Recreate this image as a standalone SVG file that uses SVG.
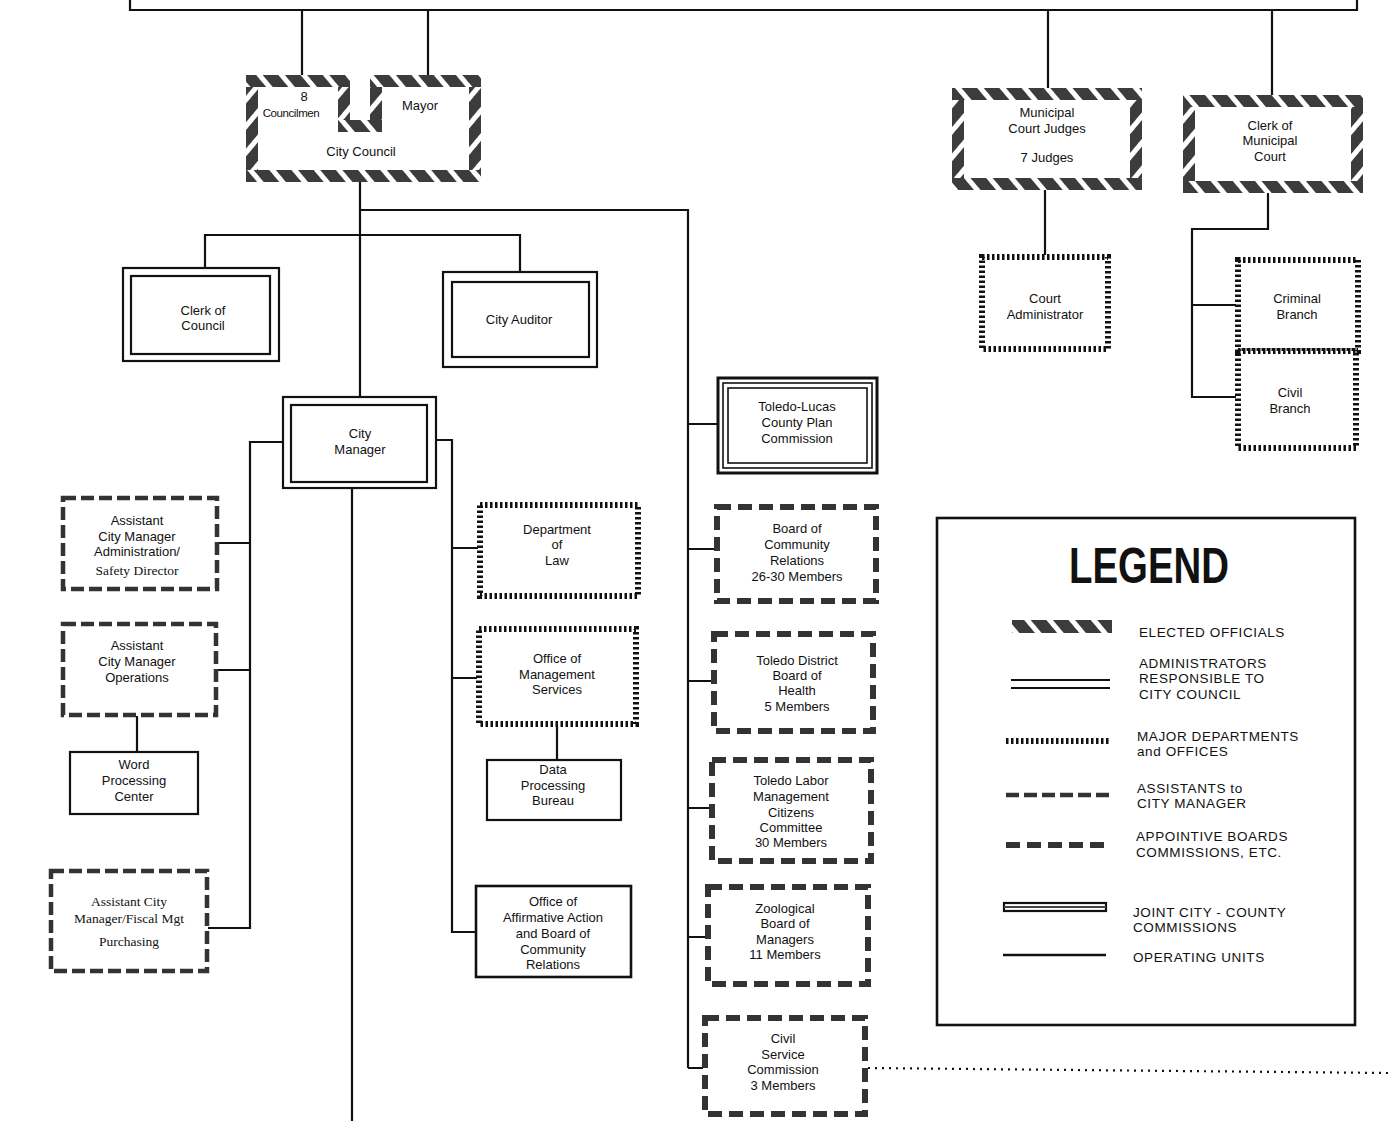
<svg xmlns="http://www.w3.org/2000/svg" width="1388" height="1121" viewBox="0 0 1388 1121">
<defs>
<pattern id="hatchH" patternUnits="userSpaceOnUse" width="17" height="17" patternTransform="rotate(-40)">
<rect width="17" height="17" fill="#fff"/><rect width="12" height="17" fill="#3c3c3c"/>
</pattern>
<pattern id="hatchV" patternUnits="userSpaceOnUse" width="17" height="17" patternTransform="rotate(40)">
<rect width="17" height="17" fill="#fff"/><rect width="12" height="17" fill="#3c3c3c"/>
</pattern>
<style>
text{font-family:"Liberation Sans",Arial,sans-serif;font-size:13px;fill:#111;text-anchor:middle}
.serif{font-family:"Liberation Serif","Times New Roman",serif;font-size:13.5px}
.lg{text-anchor:start;font-size:13.5px;letter-spacing:0.6px}
.conn{stroke:#111;stroke-width:2.2;fill:none}
.adm{fill:#fff;stroke:#111;stroke-width:2.2}
.admi{fill:none;stroke:#111;stroke-width:2.2}
.op{fill:#fff;stroke:#111;stroke-width:2.2}
.maj{fill:#fff;stroke:#111;stroke-width:6;stroke-dasharray:2.5 2.5}
.asst{fill:#fff;stroke:#333;stroke-width:4.5;stroke-dasharray:13 5}
.appt{fill:#fff;stroke:#333;stroke-width:6;stroke-dasharray:14 7}
.joint{fill:#fff;stroke:#111;stroke-width:3}
.jointi{fill:none;stroke:#111;stroke-width:1.6}
</style>
</defs>
<rect width="1388" height="1121" fill="#fff"/>

<g id="connectors">
<path class="conn" d="M130,0 V10 H1357 V0"/>
<path class="conn" d="M302,10 V75 M428,10 V75 M1048,10 V88 M1272,10 V95"/>
<path class="conn" d="M360,182 V397 M360,210 H688 V1068 M205,268 V235 H520 V272"/>
<path class="conn" d="M283,442 H250 V928 H208 M218,543 H250 M217,670 H250 M137,716 V752"/>
<path class="conn" d="M436,440 H452 V932 H476 M452,548 H478 M452,678 H477 M557,726 V760"/>
<path class="conn" d="M352,488 V1121"/>
<path class="conn" d="M688,424 H718 M688,549 H716 M688,681 H712 M688,808 H710 M688,937 H706 M688,1068 H703"/>
<path class="conn" d="M1045,190 V255 M1268,193 V229 H1192 V397 H1236 M1192,305 H1236"/>
<path d="M868,1068 L1388,1073" stroke="#111" stroke-width="2.2" stroke-dasharray="2 5" fill="none"/>
</g>

<g id="city-council">
<rect x="246" y="75" width="104" height="12" fill="url(#hatchH)"/>
<rect x="338" y="87" width="12" height="45" fill="url(#hatchV)"/>
<rect x="338" y="120" width="44" height="12" fill="url(#hatchH)"/>
<rect x="370" y="75" width="12" height="45" fill="url(#hatchV)"/>
<rect x="370" y="75" width="111" height="12" fill="url(#hatchH)"/>
<rect x="469" y="87" width="12" height="83" fill="url(#hatchV)"/>
<rect x="246" y="170" width="235" height="12" fill="url(#hatchH)"/>
<rect x="246" y="87" width="12" height="83" fill="url(#hatchV)"/>
<text x="304" y="101">8</text>
<text x="291" y="117" style="font-size:11.5px;letter-spacing:-0.4px">Councilmen</text>
<text x="420" y="110">Mayor</text>
<text x="361" y="156">City Council</text>
</g>

<g id="municipal-court-judges">
<rect x="952" y="88" width="190" height="12" fill="url(#hatchH)"/>
<rect x="952" y="178" width="190" height="12" fill="url(#hatchH)"/>
<rect x="952" y="100" width="12" height="78" fill="url(#hatchV)"/>
<rect x="1130" y="100" width="12" height="78" fill="url(#hatchV)"/>
<text x="1047" y="117">Municipal</text>
<text x="1047" y="133">Court Judges</text>
<text x="1047" y="162">7 Judges</text>
</g>

<g id="clerk-municipal-court">
<rect x="1183" y="95" width="180" height="12" fill="url(#hatchH)"/>
<rect x="1183" y="181" width="180" height="12" fill="url(#hatchH)"/>
<rect x="1183" y="107" width="12" height="74" fill="url(#hatchV)"/>
<rect x="1351" y="107" width="12" height="74" fill="url(#hatchV)"/>
<text x="1270" y="130">Clerk of</text>
<text x="1270" y="145">Municipal</text>
<text x="1270" y="161">Court</text>
</g>

<g id="court-administrator">
<rect class="maj" x="982" y="257" width="126" height="92"/>
<text x="1045" y="303">Court</text>
<text x="1045" y="319">Administrator</text>
</g>

<g id="criminal-branch">
<rect class="maj" x="1238" y="260" width="120" height="91"/>
<text x="1297" y="303">Criminal</text>
<text x="1297" y="319">Branch</text>
</g>
<g id="civil-branch">
<rect class="maj" x="1238" y="351" width="118" height="97"/>
<text x="1290" y="397">Civil</text>
<text x="1290" y="413">Branch</text>
</g>

<g id="clerk-of-council">
<rect class="adm" x="123" y="268" width="156" height="93"/>
<rect class="admi" x="131" y="276" width="139" height="78"/>
<text x="203" y="315">Clerk of</text>
<text x="203" y="330">Council</text>
</g>

<g id="city-auditor">
<rect class="adm" x="443" y="272" width="154" height="95"/>
<rect class="admi" x="452" y="282" width="137" height="75"/>
<text x="519" y="324">City Auditor</text>
</g>

<g id="city-manager">
<rect class="adm" x="283" y="397" width="153" height="91"/>
<rect class="admi" x="291" y="405" width="136" height="77"/>
<text x="360" y="438">City</text>
<text x="360" y="454">Manager</text>
</g>

<g id="asst-admin">
<rect class="asst" x="63" y="498" width="154" height="91"/>
<text x="137" y="525">Assistant</text>
<text x="137" y="541">City Manager</text>
<text x="137" y="556">Administration/</text>
<text class="serif" x="137" y="575">Safety Director</text>
</g>

<g id="asst-operations">
<rect class="asst" x="63" y="624" width="153" height="91"/>
<text x="137" y="650">Assistant</text>
<text x="137" y="666">City Manager</text>
<text x="137" y="682">Operations</text>
</g>

<g id="word-processing">
<rect class="op" x="70" y="752" width="128" height="62"/>
<text x="134" y="769">Word</text>
<text x="134" y="785">Processing</text>
<text x="134" y="801">Center</text>
</g>

<g id="asst-fiscal">
<rect class="asst" x="51" y="871" width="156" height="100"/>
<text class="serif" x="129" y="906">Assistant City</text>
<text class="serif" x="129" y="923">Manager/Fiscal Mgt</text>
<text class="serif" x="129" y="946">Purchasing</text>
</g>

<g id="dept-law">
<rect class="maj" x="480" y="505" width="158" height="91"/>
<text x="557" y="534">Department</text>
<text x="557" y="549">of</text>
<text x="557" y="565">Law</text>
</g>

<g id="office-mgmt">
<rect class="maj" x="479" y="629" width="157" height="95"/>
<text x="557" y="663">Office of</text>
<text x="557" y="679">Management</text>
<text x="557" y="694">Services</text>
</g>

<g id="data-processing">
<rect class="op" x="487" y="760" width="134" height="60"/>
<text x="553" y="774">Data</text>
<text x="553" y="790">Processing</text>
<text x="553" y="805">Bureau</text>
</g>

<g id="affirmative-action">
<rect class="op" x="476" y="886" width="155" height="91" style="stroke-width:2.6"/>
<text x="553" y="906">Office of</text>
<text x="553" y="922">Affirmative Action</text>
<text x="553" y="938">and Board of</text>
<text x="553" y="954">Community</text>
<text x="553" y="969">Relations</text>
</g>

<g id="plan-commission">
<rect class="joint" x="718" y="378" width="159" height="95"/>
<rect class="jointi" x="723" y="383" width="149" height="85"/>
<rect class="jointi" x="728" y="388" width="139" height="75"/>
<text x="797" y="411">Toledo-Lucas</text>
<text x="797" y="427">County Plan</text>
<text x="797" y="443">Commission</text>
</g>

<g id="board-community-relations">
<rect class="appt" x="717" y="507" width="159" height="94"/>
<text x="797" y="533">Board of</text>
<text x="797" y="549">Community</text>
<text x="797" y="565">Relations</text>
<text x="797" y="581">26-30 Members</text>
</g>

<g id="board-of-health">
<rect class="appt" x="714" y="634" width="159" height="97"/>
<text x="797" y="665">Toledo District</text>
<text x="797" y="680">Board of</text>
<text x="797" y="695">Health</text>
<text x="797" y="711">5  Members</text>
</g>

<g id="labor-management">
<rect class="appt" x="712" y="760" width="159" height="101"/>
<text x="791" y="785">Toledo Labor</text>
<text x="791" y="801">Management</text>
<text x="791" y="817">Citizens</text>
<text x="791" y="832">Committee</text>
<text x="791" y="847">30  Members</text>
</g>

<g id="zoological-board">
<rect class="appt" x="708" y="887" width="160" height="97"/>
<text x="785" y="913">Zoological</text>
<text x="785" y="928">Board of</text>
<text x="785" y="944">Managers</text>
<text x="785" y="959">11  Members</text>
</g>

<g id="civil-service">
<rect class="appt" x="705" y="1018" width="160" height="96"/>
<text x="783" y="1043">Civil</text>
<text x="783" y="1059">Service</text>
<text x="783" y="1074">Commission</text>
<text x="783" y="1090">3  Members</text>
</g>

<g id="legend">
<rect x="937" y="518" width="418" height="507" fill="#fff" stroke="#111" stroke-width="2.6"/>
<text x="1149" y="583" style="font-size:50px;font-weight:bold" textLength="160" lengthAdjust="spacingAndGlyphs">LEGEND</text>
<rect x="1012" y="620" width="100" height="13" fill="url(#hatchH)"/>
<text class="lg" x="1139" y="637">ELECTED OFFICIALS</text>
<path d="M1011,680 H1110 M1011,688 H1110" stroke="#111" stroke-width="2.2"/>
<text class="lg" x="1139" y="668">ADMINISTRATORS</text>
<text class="lg" x="1139" y="683">RESPONSIBLE TO</text>
<text class="lg" x="1139" y="699">CITY COUNCIL</text>
<path d="M1006,741 H1110" stroke="#111" stroke-width="6" stroke-dasharray="2.5 2.5"/>
<text class="lg" x="1137" y="741">MAJOR DEPARTMENTS</text>
<text class="lg" x="1137" y="756">and OFFICES</text>
<path d="M1006,795 H1110" stroke="#333" stroke-width="4.5" stroke-dasharray="13 5"/>
<text class="lg" x="1137" y="793">ASSISTANTS to</text>
<text class="lg" x="1137" y="808">CITY MANAGER</text>
<path d="M1006,845 H1108" stroke="#333" stroke-width="6" stroke-dasharray="14 7"/>
<text class="lg" x="1136" y="841">APPOINTIVE BOARDS</text>
<text class="lg" x="1136" y="857">COMMISSIONS, ETC.</text>
<rect x="1004" y="903" width="102" height="8" fill="#fff" stroke="#111" stroke-width="2.2"/>
<path d="M1004,907 H1106" stroke="#444" stroke-width="2"/>
<text class="lg" x="1133" y="917">JOINT CITY - COUNTY</text>
<text class="lg" x="1133" y="932">COMMISSIONS</text>
<path d="M1003,955 H1106" stroke="#111" stroke-width="2.4"/>
<text class="lg" x="1133" y="962">OPERATING UNITS</text>
</g>
</svg>
